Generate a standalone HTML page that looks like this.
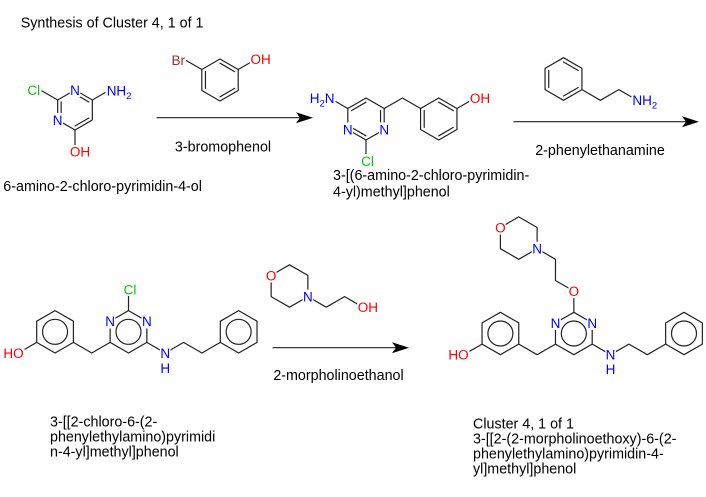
<!DOCTYPE html>
<html><head><meta charset="utf-8"><style>
html,body{margin:0;padding:0;background:#fff;}
svg{display:block}
.b{stroke:#222;stroke-width:1.2;fill:none;stroke-linecap:round;stroke-linejoin:round}
.t{font-family:"Liberation Sans",Arial,sans-serif;font-size:14.3px;fill:#000}
.a{font-family:"Liberation Sans",Arial,sans-serif;font-size:13.5px}
.N{fill:#0000ff}.O{fill:#ff0000}.Cl{fill:#00cc00}.Br{fill:#a62929}
.m{fill:#fff}
</style></head><body>
<svg width="706" height="497" viewBox="0 0 706 497" xmlns="http://www.w3.org/2000/svg">
<rect width="706" height="497" fill="#fff"/>

<!-- ===== Titles / names ===== -->
<text class="t" x="20.7" y="27.5">Synthesis of Cluster 4, 1 of 1</text>
<text class="t" x="3.3" y="191">6-amino-2-chloro-pyrimidin-4-ol</text>
<text class="t" x="223" y="151.7" text-anchor="middle">3-bromophenol</text>
<text class="t" x="333" y="180">3-[(6-amino-2-chloro-pyrimidin-</text>
<text class="t" x="333" y="196.7">4-yl)methyl]phenol</text>
<text class="t" x="600" y="155" text-anchor="middle">2-phenylethanamine</text>
<text class="t" x="338.5" y="380" text-anchor="middle">2-morpholinoethanol</text>
<text class="t" x="50" y="426.7">3-[[2-chloro-6-(2-</text>
<text class="t" x="50" y="441.7">phenylethylamino)pyrimidi</text>
<text class="t" x="50" y="456.7">n-4-yl]methyl]phenol</text>
<text class="t" x="473" y="428.5">Cluster 4, 1 of 1</text>
<text class="t" x="473" y="443.5">3-[[2-(2-morpholinoethoxy)-6-(2-</text>
<text class="t" x="473" y="458.5">phenylethylamino)pyrimidin-4-</text>
<text class="t" x="473" y="473.5">yl]methyl]phenol</text>

<!-- ===== Arrows ===== -->
<line class="b" x1="157" y1="117.7" x2="300" y2="117.7"/>
<path d="M313,117.7 L296,112.2 L300,117.7 L296,123.2 Z" fill="#000"/>
<line class="b" x1="514" y1="121.7" x2="686" y2="121.7"/>
<path d="M699,121.7 L682,116.2 L686,121.7 L682,127.2 Z" fill="#000"/>
<line class="b" x1="273" y1="347.7" x2="396" y2="347.7"/>
<path d="M409,347.7 L392,342.2 L396,347.7 L392,353.2 Z" fill="#000"/>

<!-- ===== Molecule 1: 6-amino-2-chloro-pyrimidin-4-ol ===== -->
<g transform="translate(75,110)">
<polygon class="b" points="0,-20 17.32,-10 17.32,10 0,20 -17.32,10 -17.32,-10"/>
<line class="b" x1="-13.86" y1="-8" x2="-13.86" y2="8"/>
<line class="b" x1="0" y1="-16" x2="13.86" y2="-8"/>
<line class="b" x1="13.86" y1="8" x2="0" y2="16"/>
</g>
<line class="b" x1="57.68" y1="100" x2="40.4" y2="90"/>
<line class="b" x1="92.32" y1="100" x2="109.64" y2="90"/>
<line class="b" x1="75" y1="130" x2="75" y2="151"/>
<rect class="m" x="69.7" y="83" width="10.6" height="14"/>
<rect class="m" x="52.4" y="113" width="10.6" height="14"/>
<rect class="m" x="26.5" y="83" width="15" height="14"/>
<rect class="m" x="105.5" y="83" width="27" height="16"/>
<rect class="m" x="69" y="145" width="22" height="14"/>
<text class="a N" x="75" y="94.85" text-anchor="middle">N</text>
<text class="a N" x="57.68" y="124.85" text-anchor="middle">N</text>
<text class="a Cl" x="33.8" y="94.85" text-anchor="middle">Cl</text>
<text class="a N" x="106.7" y="95.5">NH<tspan font-size="9.5" dy="3.5">2</tspan></text>
<text class="a O" x="69.9" y="156.3">OH</text>

<!-- ===== 3-bromophenol ===== -->
<g transform="translate(220,80)">
<polygon class="b" points="0,-21 18.19,-10.5 18.19,10.5 0,21 -18.19,10.5 -18.19,-10.5"/>
<line class="b" x1="-14.55" y1="-8.4" x2="-14.55" y2="8.4"/>
<line class="b" x1="0" y1="-16.8" x2="14.55" y2="-8.4"/>
<line class="b" x1="14.55" y1="8.4" x2="0" y2="16.8"/>
</g>
<line class="b" x1="201.81" y1="69.5" x2="183.6" y2="59"/>
<line class="b" x1="238.19" y1="69.5" x2="256.4" y2="59"/>
<rect class="m" x="170.5" y="53" width="15.5" height="14"/>
<rect class="m" x="249.8" y="52" width="22" height="14"/>
<text class="a Br" x="178.3" y="64.85" text-anchor="middle">Br</text>
<text class="a O" x="250.5" y="63.85">OH</text>

<!-- ===== Product 1 ===== -->
<g transform="translate(366,119)">
<polygon class="b" points="0,-21 18.19,-10.5 18.19,10.5 0,21 -18.19,10.5 -18.19,-10.5"/>
<line class="b" x1="-14.55" y1="-8.4" x2="0" y2="-16.8"/>
<line class="b" x1="14.55" y1="-8.4" x2="14.55" y2="8.4"/>
<line class="b" x1="0" y1="16.8" x2="-14.55" y2="8.4"/>
</g>
<line class="b" x1="347.81" y1="108.5" x2="329.62" y2="98"/>
<line class="b" x1="366" y1="140" x2="366" y2="161"/>
<polyline class="b" points="384.19,108.5 402.38,98 420.57,108.5"/>
<g transform="translate(438.76,119)">
<polygon class="b" points="0,-21 18.19,-10.5 18.19,10.5 0,21 -18.19,10.5 -18.19,-10.5"/>
<line class="b" x1="-14.55" y1="-8.4" x2="-14.55" y2="8.4"/>
<line class="b" x1="0" y1="-16.8" x2="14.55" y2="-8.4"/>
<line class="b" x1="14.55" y1="8.4" x2="0" y2="16.8"/>
</g>
<line class="b" x1="456.95" y1="108.5" x2="475.14" y2="98"/>
<rect class="m" x="378.9" y="122.5" width="10.6" height="14"/>
<rect class="m" x="342.5" y="122.5" width="10.6" height="14"/>
<rect class="m" x="308" y="91" width="27.5" height="15"/>
<rect class="m" x="360" y="154" width="14.5" height="14"/>
<rect class="m" x="469" y="91" width="22" height="14"/>
<text class="a N" x="384.19" y="134.35" text-anchor="middle">N</text>
<text class="a N" x="347.81" y="134.35" text-anchor="middle">N</text>
<text class="a N" x="309.7" y="102.85">H<tspan font-size="9.5" dy="3.5">2</tspan><tspan dy="-3.5">N</tspan></text>
<text class="a Cl" x="361.1" y="165.85">Cl</text>
<text class="a O" x="469.9" y="102.85">OH</text>

<!-- ===== 2-phenylethanamine ===== -->
<g transform="translate(563.5,79)">
<polygon class="b" points="0,-21.3 18.45,-10.65 18.45,10.65 0,21.3 -18.45,10.65 -18.45,-10.65"/>
<line class="b" x1="-14.76" y1="-8.52" x2="-14.76" y2="8.52"/>
<line class="b" x1="0" y1="-17.04" x2="14.76" y2="-8.52"/>
<line class="b" x1="14.76" y1="8.52" x2="0" y2="17.04"/>
</g>
<polyline class="b" points="581.95,89.65 600.4,100.3 618.85,89.65 637.3,100.3"/>
<rect class="m" x="631.5" y="93" width="27" height="16"/>
<text class="a N" x="632.4" y="105.15">NH<tspan font-size="9.5" dy="3.5">2</tspan></text>

<!-- ===== Bottom-left intermediate ===== -->
<g transform="translate(55.06,331.8)">
<polygon class="b" points="0,-21.2 18.36,-10.6 18.36,10.6 0,21.2 -18.36,10.6 -18.36,-10.6"/>
<circle class="b" cx="0" cy="0" r="12.5"/>
</g>
<line class="b" x1="36.7" y1="342.4" x2="18.34" y2="353"/>
<polyline class="b" points="73.42,342.4 91.78,353 110.14,342.4"/>
<g transform="translate(128.5,331.8)">
<polygon class="b" points="0,-21.2 18.36,-10.6 18.36,10.6 0,21.2 -18.36,10.6 -18.36,-10.6"/>
<circle class="b" cx="0" cy="0" r="12.5"/>
</g>
<line class="b" x1="128.5" y1="310.6" x2="128.5" y2="289.4"/>
<polyline class="b" points="146.86,342.4 165.22,353 183.58,342.4 201.94,353 220.3,342.4"/>
<g transform="translate(238.66,331.8)">
<polygon class="b" points="0,-21.2 18.36,-10.6 18.36,10.6 0,21.2 -18.36,10.6 -18.36,-10.6"/>
<circle class="b" cx="0" cy="0" r="12.5"/>
</g>
<rect class="m" x="2.5" y="346" width="22" height="14"/>
<rect class="m" x="141.6" y="314.5" width="10.6" height="14"/>
<rect class="m" x="104.8" y="314.5" width="10.6" height="14"/>
<rect class="m" x="122.5" y="282" width="14.5" height="14"/>
<rect class="m" x="159.9" y="346" width="10.6" height="14"/>
<text class="a O" x="3.34" y="357.85">HO</text>
<text class="a N" x="146.86" y="326.05" text-anchor="middle">N</text>
<text class="a N" x="110.14" y="326.05" text-anchor="middle">N</text>
<text class="a Cl" x="123.6" y="294.25">Cl</text>
<text class="a N" x="165.22" y="357.85" text-anchor="middle">N</text>
<text class="a N" x="165.22" y="372.85" text-anchor="middle">H</text>

<!-- ===== 2-morpholinoethanol ===== -->
<g transform="translate(289.5,286)">
<polygon class="b" points="0,-21.2 18.36,-10.6 18.36,10.6 0,21.2 -18.36,10.6 -18.36,-10.6"/>
</g>
<polyline class="b" points="307.86,296.6 326.22,307.2 344.58,296.6 362.94,307.2"/>
<rect class="m" x="265.9" y="268.4" width="10.6" height="14"/>
<rect class="m" x="302.6" y="289.6" width="10.6" height="14"/>
<rect class="m" x="357" y="300.2" width="22" height="14"/>
<text class="a O" x="271.14" y="280.25" text-anchor="middle">O</text>
<text class="a N" x="307.86" y="301.45" text-anchor="middle">N</text>
<text class="a O" x="357.7" y="312.05">OH</text>

<!-- ===== Final product ===== -->
<g transform="translate(518.76,238.1)">
<polygon class="b" points="0,-21.2 18.36,-10.6 18.36,10.6 0,21.2 -18.36,10.6 -18.36,-10.6"/>
</g>
<polyline class="b" points="537.12,248.7 555.48,259.3 555.48,280.5 573.84,291.1 573.84,312.3"/>
<g transform="translate(573.84,333.5)">
<polygon class="b" points="0,-21.2 18.36,-10.6 18.36,10.6 0,21.2 -18.36,10.6 -18.36,-10.6"/>
<circle class="b" cx="0" cy="0" r="12.5"/>
</g>
<g transform="translate(500.4,333.5)">
<polygon class="b" points="0,-21.2 18.36,-10.6 18.36,10.6 0,21.2 -18.36,10.6 -18.36,-10.6"/>
<circle class="b" cx="0" cy="0" r="12.5"/>
</g>
<line class="b" x1="482.04" y1="344.1" x2="463.68" y2="354.7"/>
<polyline class="b" points="518.76,344.1 537.12,354.7 555.48,344.1"/>
<polyline class="b" points="592.2,344.1 610.56,354.7 628.92,344.1 647.28,354.7 665.64,344.1"/>
<g transform="translate(684,333.5)">
<polygon class="b" points="0,-21.2 18.36,-10.6 18.36,10.6 0,21.2 -18.36,10.6 -18.36,-10.6"/>
<circle class="b" cx="0" cy="0" r="12.5"/>
</g>
<rect class="m" x="495.1" y="220.5" width="10.6" height="14"/>
<rect class="m" x="531.8" y="241.7" width="10.6" height="14"/>
<rect class="m" x="568.5" y="284.1" width="10.6" height="14"/>
<rect class="m" x="586.9" y="315.9" width="10.6" height="14"/>
<rect class="m" x="550.2" y="315.9" width="10.6" height="14"/>
<rect class="m" x="447.5" y="347.7" width="22" height="14"/>
<rect class="m" x="605.3" y="347.7" width="10.6" height="14"/>
<text class="a O" x="500.4" y="232.35" text-anchor="middle">O</text>
<text class="a N" x="537.12" y="253.55" text-anchor="middle">N</text>
<text class="a O" x="573.84" y="295.95" text-anchor="middle">O</text>
<text class="a N" x="592.2" y="327.75" text-anchor="middle">N</text>
<text class="a N" x="555.48" y="327.75" text-anchor="middle">N</text>
<text class="a O" x="448.43" y="359.55">HO</text>
<text class="a N" x="610.56" y="359.55" text-anchor="middle">N</text>
<text class="a N" x="610.56" y="374" text-anchor="middle">H</text>
</svg>
</body></html>
